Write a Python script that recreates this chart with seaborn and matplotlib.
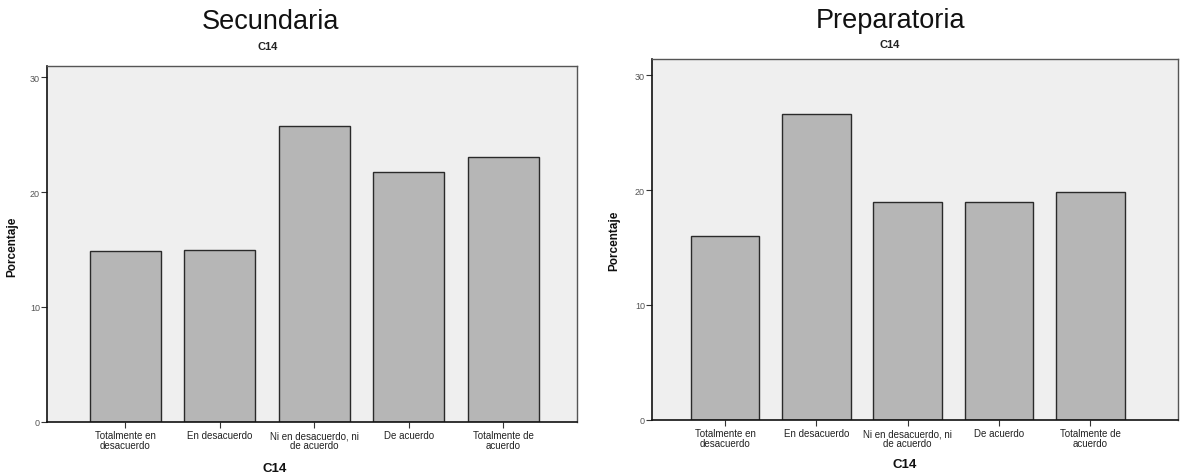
import matplotlib
matplotlib.use("Agg")
import matplotlib.pyplot as plt
import pandas as pd
import seaborn as sns

# Response categories for item C14
categorias = [
    "Totalmente en\ndesacuerdo",
    "En desacuerdo",
    "Ni en desacuerdo, ni\nde acuerdo",
    "De acuerdo",
    "Totalmente de\nacuerdo",
]
# Percentage of students per category
secundaria = [14.9, 15.0, 25.8, 21.8, 23.1]
preparatoria = [16.0, 26.6, 19.0, 19.0, 19.8]
yticks = [0, 10, 20, 30]

sns.set_theme(style="white")
plt.rcParams["font.family"] = ["Liberation Sans", "DejaVu Sans"]

fig = plt.figure(figsize=(11.81, 4.77), dpi=100)
fig.patch.set_facecolor("white")

panels = [
    ("Secundaria", secundaria, [0.0398, 0.1138, 0.4488, 0.7457], (-0.83, 4.78), 31.0,
     (0.229, 0.953), (0.43, -0.113), (-0.055, 0.494), (0.417, 12)),
    ("Preparatoria", preparatoria, [0.552, 0.118, 0.4455, 0.756], (-0.80, 4.96), 31.4,
     (0.754, 0.956), (0.481, -0.106), (-0.061, 0.50), (0.452, 9)),
]

for titulo, valores, rect, xlim, ytop, tpos, xlpos, ylpos, sub in panels:
    ax = fig.add_axes(rect)
    df = pd.DataFrame({"C14": categorias, "Porcentaje": valores})
    sns.barplot(data=df, x="C14", y="Porcentaje", color="#b6b6b6", saturation=1,
                edgecolor="#2a2a2a", linewidth=1.0, width=0.75, ax=ax)
    ax.set_facecolor("#efefef")
    ax.set_xlim(*xlim)
    ax.set_ylim(0, ytop)
    ax.set_yticks(yticks)
    ax.tick_params(axis="y", direction="out", length=4, width=0.8, pad=1,
                   labelsize=6.5, labelcolor="#555555", color="#333333", left=True)
    ax.tick_params(axis="x", direction="out", length=4, width=0.8, pad=2,
                   labelsize=7, labelcolor="#222222", color="#333333", bottom=True)
    for lab in ax.get_xticklabels():
        lab.set_linespacing(0.95)
    for side in ["left", "bottom"]:
        ax.spines[side].set_color("#111111")
        ax.spines[side].set_linewidth(1.2)
    for side in ["top", "right"]:
        ax.spines[side].set_color("#555555")
        ax.spines[side].set_linewidth(1.0)
    ax.set_title("C14", fontsize=8, fontweight="bold", x=sub[0], pad=sub[1],
                 color="#222222")
    ax.set_xlabel("C14", fontsize=9.5, fontweight="bold", color="#111111")
    ax.set_ylabel("Porcentaje", fontsize=8.5, fontweight="bold", color="#111111")
    ax.xaxis.set_label_coords(*xlpos)
    ax.yaxis.set_label_coords(*ylpos)
    fig.text(tpos[0], tpos[1], titulo, fontsize=19.5, ha="center", va="center",
             color="#111111")

fig.savefig("out.png", dpi=100)
